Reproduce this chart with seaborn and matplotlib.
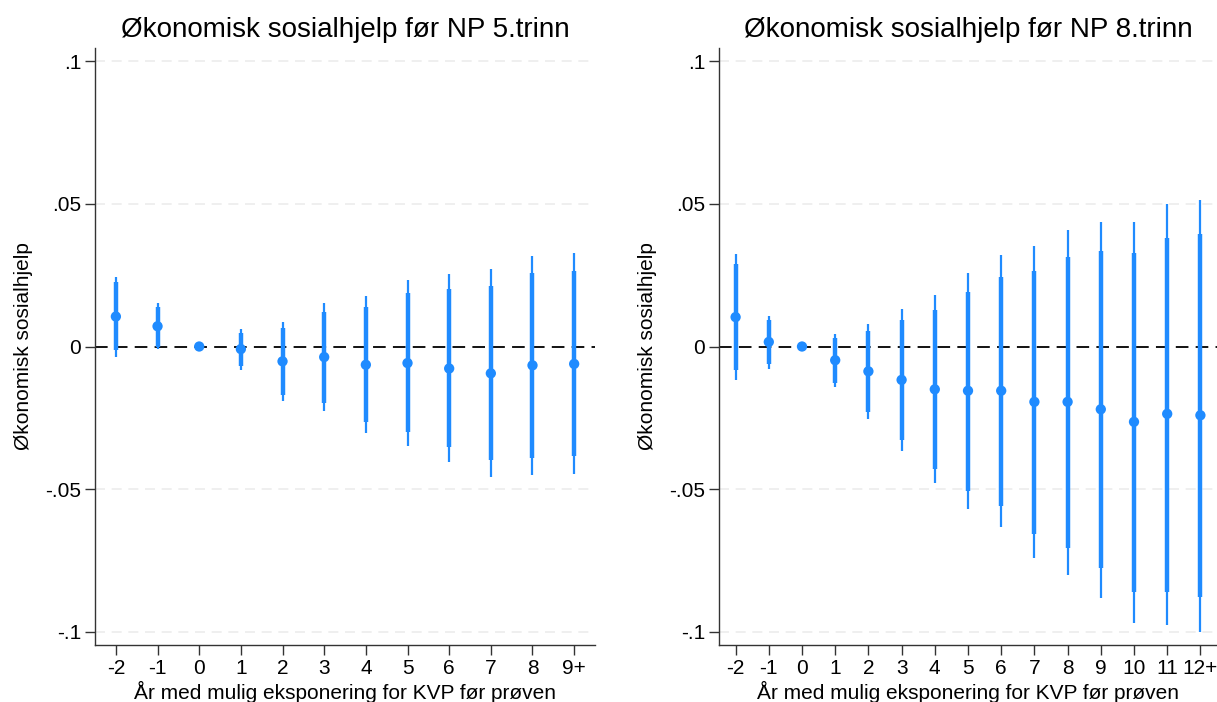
import numpy as np
import pandas as pd
import matplotlib
matplotlib.use("Agg")
from matplotlib import pyplot as plt
import seaborn as sns

# Coefficients and confidence intervals
cats_5 = ["-2", "-1", "0", "1", "2", "3", "4", "5", "6", "7", "8", "9+"]
coef_5 = [0.0105, 0.0071, 0.0, -0.0009, -0.0052, -0.0037, -0.0064, -0.0058, -0.0077, -0.0094, -0.0066, -0.0061]
hi95_5 = [0.0245, 0.0152, 0.0, 0.0060, 0.0086, 0.0152, 0.0177, 0.0233, 0.0253, 0.0270, 0.0317, 0.0326]
lo95_5 = [-0.0037, -0.0009, 0.0, -0.0082, -0.0190, -0.0227, -0.0304, -0.0347, -0.0406, -0.0457, -0.0451, -0.0446]
hi90_5 = [0.0225, 0.0138, 0.0, 0.0049, 0.0064, 0.0121, 0.0139, 0.0186, 0.0200, 0.0213, 0.0256, 0.0265]
lo90_5 = [-0.0012, 0.0000, 0.0, -0.0070, -0.0169, -0.0198, -0.0266, -0.0301, -0.0353, -0.0399, -0.0390, -0.0385]

cats_8 = ["-2", "-1", "0", "1", "2", "3", "4", "5", "6", "7", "8", "9", "10", "11", "12+"]
coef_8 = [0.0103, 0.0016, 0.0, -0.0048, -0.0087, -0.0117, -0.0150, -0.0155, -0.0155, -0.0194, -0.0194, -0.0220, -0.0264, -0.0236, -0.0241]
hi95_8 = [0.0324, 0.0108, 0.0, 0.0044, 0.0080, 0.0133, 0.0180, 0.0256, 0.0320, 0.0352, 0.0410, 0.0438, 0.0438, 0.0500, 0.0515]
lo95_8 = [-0.0119, -0.0078, 0.0, -0.0141, -0.0255, -0.0367, -0.0480, -0.0570, -0.0634, -0.0742, -0.0802, -0.0881, -0.0970, -0.0976, -0.1000]
hi90_8 = [0.0288, 0.0093, 0.0, 0.0029, 0.0053, 0.0093, 0.0128, 0.0191, 0.0244, 0.0265, 0.0314, 0.0334, 0.0326, 0.0381, 0.0393]
lo90_8 = [-0.0084, -0.0063, 0.0, -0.0128, -0.0230, -0.0328, -0.0430, -0.0505, -0.0558, -0.0657, -0.0706, -0.0776, -0.0860, -0.0860, -0.0879]

titles = ["Økonomisk sosialhjelp før NP 5.trinn", "Økonomisk sosialhjelp før NP 8.trinn"]
ylabel = "Økonomisk sosialhjelp"
xlabel = "År med mulig eksponering for KVP før prøven"
yticks = [-0.1, -0.05, 0, 0.05, 0.1]
yticklabels = ["-.1", "-.05", "0", ".05", ".1"]

blue = "#1f8bff"

sns.set_theme(style="white")
plt.rcParams["font.family"] = ["Liberation Sans", "DejaVu Sans"]
plt.rcParams["text.color"] = "black"
plt.rcParams["axes.labelcolor"] = "black"
plt.rcParams["xtick.color"] = "black"
plt.rcParams["ytick.color"] = "black"

fig = plt.figure(figsize=(12.17, 7.02), dpi=100)
ax1 = fig.add_axes([0.0781, 0.0812, 0.4108, 0.8504])
ax2 = fig.add_axes([0.5908, 0.0812, 0.4092, 0.8504])


def draw_panel(ax, cats, coef, lo95, hi95, lo90, hi90, title):
    df = pd.DataFrame({"cat": cats, "coef": coef, "lo95": lo95, "hi95": hi95,
                       "lo90": lo90, "hi90": hi90})
    df["pos"] = np.arange(len(df))

    # grid lines (not at zero)
    for y in [-0.1, -0.05, 0.05, 0.1]:
        ax.axhline(y, color="#ececec", lw=1.2, ls=(0, (6, 4)), zorder=0)
    ax.axhline(0, color="black", lw=1.3, ls=(0, (7, 4)), zorder=1)

    ax.vlines(df["pos"], df["lo95"], df["hi95"], color=blue, lw=1.6, zorder=2)
    ax.vlines(df["pos"], df["lo90"], df["hi90"], color=blue, lw=3.2, zorder=3)
    sns.scatterplot(data=df, x="pos", y="coef", ax=ax, color=blue, s=55,
                    edgecolor="none", zorder=4, legend=False)

    ax.set_xlim(-0.5, len(df) - 0.5)
    ax.set_ylim(-0.1046, 0.1046)
    ax.set_xticks(df["pos"])
    ax.set_xticklabels(df["cat"], fontsize=15)
    ax.set_yticks(yticks)
    ax.set_yticklabels(yticklabels, fontsize=15)
    ax.set_xlabel(xlabel, fontsize=15, labelpad=2)
    ax.set_ylabel(ylabel, fontsize=15, labelpad=9)
    ax.set_title(title, fontsize=20, pad=8)

    ax.tick_params(axis="both", which="major", direction="out", length=7,
                   width=1, color="#333333", bottom=True, left=True, pad=3)
    for side in ["top", "right"]:
        ax.spines[side].set_visible(False)
    for side in ["left", "bottom"]:
        ax.spines[side].set_color("#333333")
        ax.spines[side].set_linewidth(1.0)


draw_panel(ax1, cats_5, coef_5, lo95_5, hi95_5, lo90_5, hi90_5, titles[0])
draw_panel(ax2, cats_8, coef_8, lo95_8, hi95_8, lo90_8, hi90_8, titles[1])

fig.savefig("out.png", dpi=100)
